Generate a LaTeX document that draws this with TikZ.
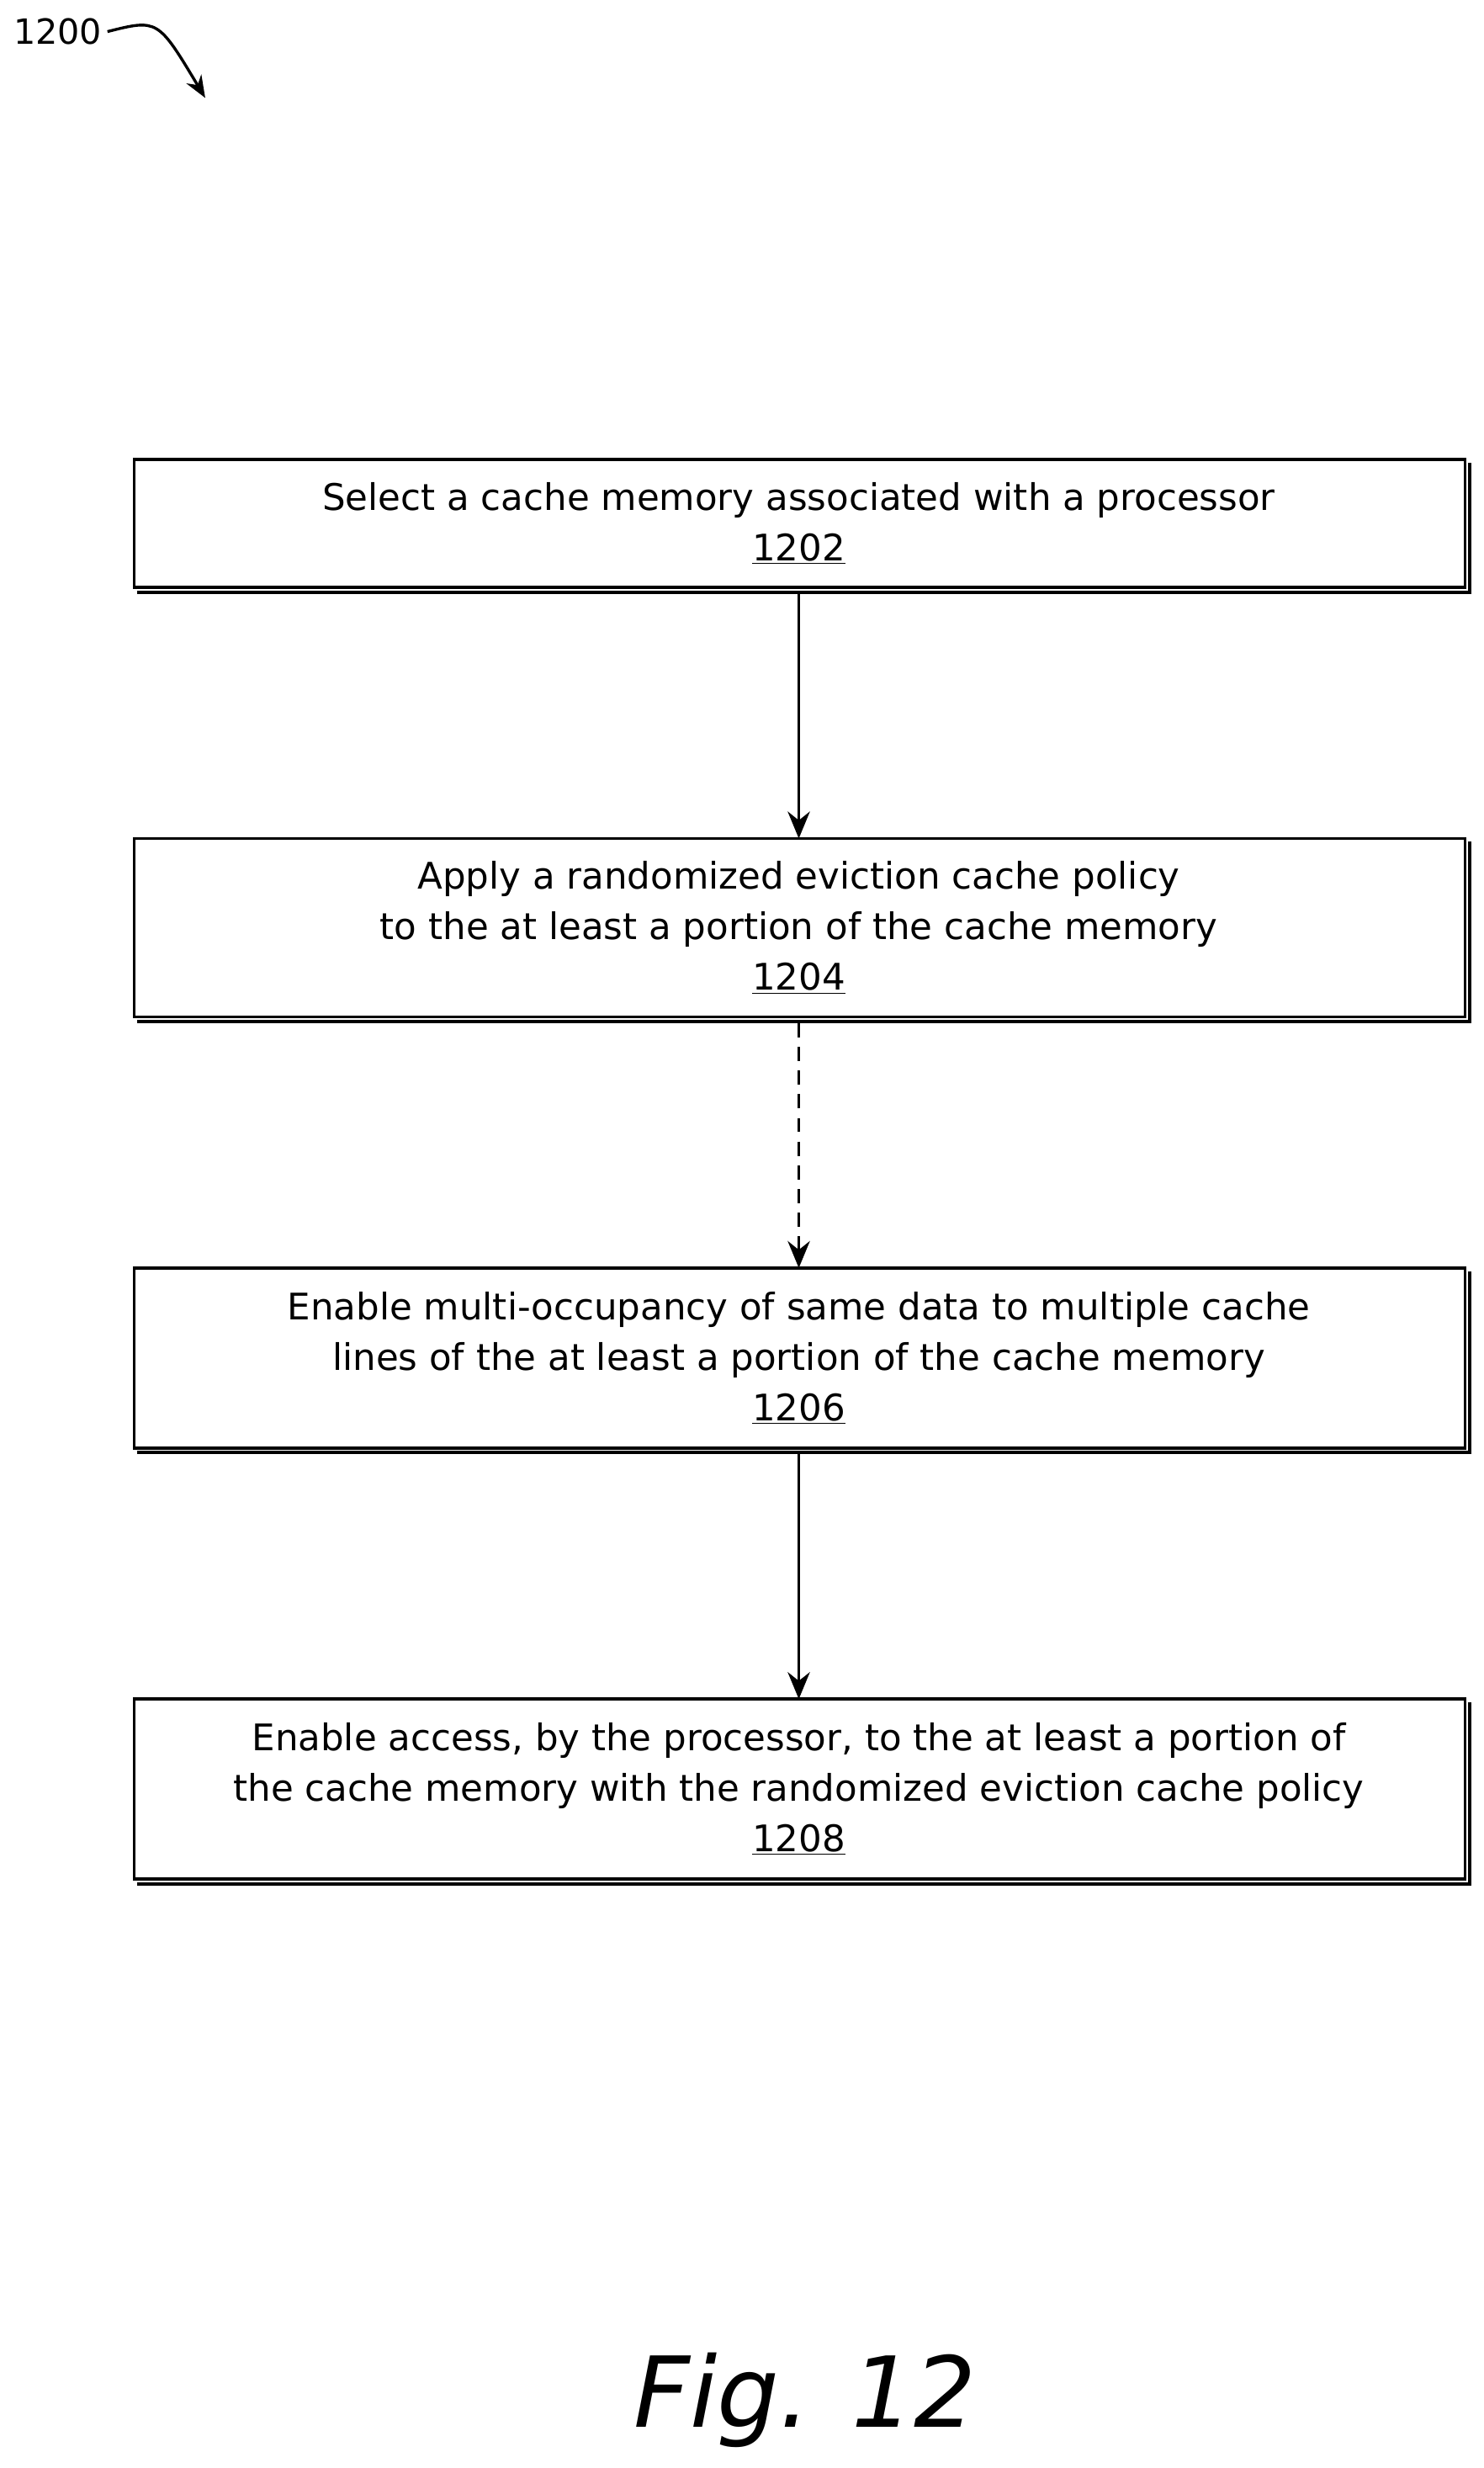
\documentclass[tikz,border=0pt]{standalone}
\usepackage{fontspec}
\setmainfont{DejaVu Sans}
\usetikzlibrary{arrows.meta}
\begin{document}
\begin{tikzpicture}[x=1pt,y=-1pt,
  txt/.style={font=\fontsize{23.2}{32}\selectfont,align=center},
  arr/.style={line width=2pt,-{Stealth[length=17pt,width=14pt]}}]
\useasboundingbox (0,0) rectangle (940,1563);
\foreach \n/\t/\b/\txt/\num in {a/291/372/{Select a cache memory associated with a processor}/1202,
  b/531/644/{Apply a randomized eviction cache policy\\to the at least a portion of the cache memory}/1204,
  c/803/917/{Enable multi-occupancy of same data to multiple cache\\lines of the at least a portion of the cache memory}/1206,
  d/1076/1190/{Enable access, by the processor, to the at least a portion of\\the cache memory with the randomized eviction cache policy}/1208}{
  \draw[line width=2pt] (85,\t) rectangle (928,\b);
  \draw[line width=2.2pt] (87,\b+3) -- (931,\b+3) -- (931,\t+2);
  \node[txt] (\n) at (506,{(\t+\b)/2}) {\txt\\\underline{\num}};
  \coordinate (\n t) at (506,\t);
  \coordinate (\n b) at (506,\b+4);
}
\draw[arr] (ab) -- (bt);
\draw[arr,dash pattern=on 9pt off 6pt] (bb) -- (ct);
\draw[arr] (cb) -- (dt);
\node[font=\fontsize{22}{24}\selectfont,anchor=west] (lbl) at (5,20) {1200};
\coordinate (lend) at (130,62);
\draw[line width=1.8pt,-{Stealth[length=14pt,width=11pt]}] (lbl.east) .. controls (100,12) .. (lend);
\node[font=\itshape\fontsize{62}{70}\selectfont] (fig) at (510,1520) {Fig. 12};
\end{tikzpicture}
\end{document}
